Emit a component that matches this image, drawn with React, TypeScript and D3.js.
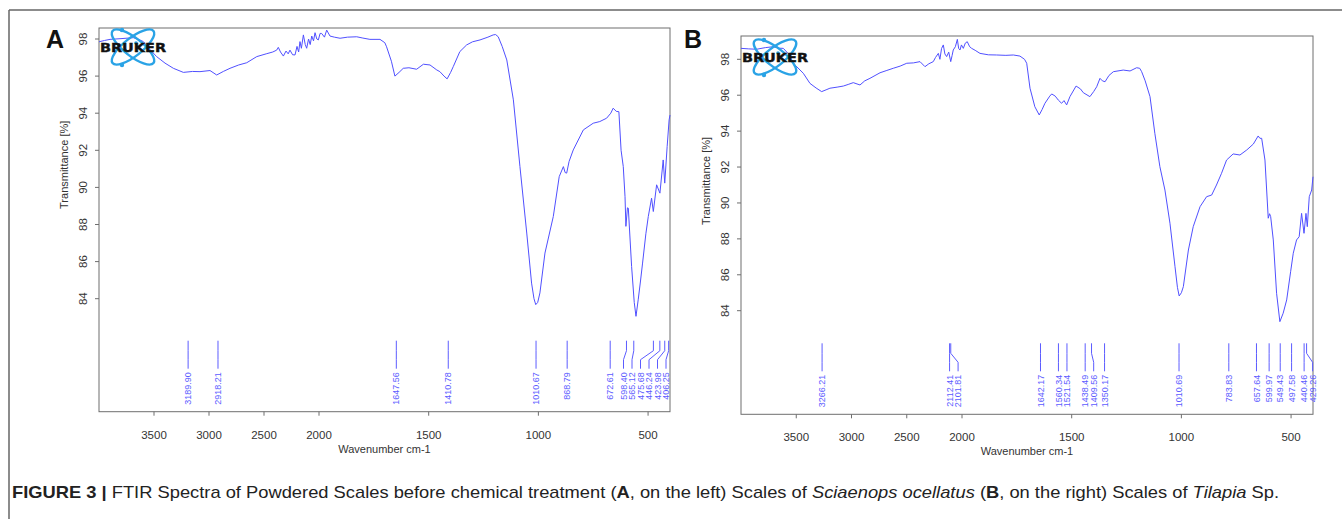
import React from "react";
import * as d3 from "d3";

// ---------- data ----------
const waveA = [4000,3950,3900,3800,3688,3640,3597,3540,3476,3400,3324,3233,3150,3082,2991,2930,2870,2809,2730,2657,2566,2480,2420,2385,2370,2350,2324,2300,2280,2264,2240,2218,2200,2185,2173,2160,2142,2125,2112,2095,2080,2066,2050,2036,2020,2006,1995,1988,1975,1965,1950,1930,1904,1870,1828,1800,1768,1722,1700,1692,1670,1654,1635,1616,1590,1555,1524,1494,1463,1449,1430,1416,1400,1388,1358,1327,1300,1266,1230,1206,1195,1183,1165,1144,1114,1084,1053,1031,1020,1012,1003,993,970,932,905,886,878,871,860,841,795,750,720,689,670,659,645,633,623,613,605,601,594,590,575,563,555,545,535,525,510,499,484,476,461,446,431,424,413,404,400];
const transA = [97.85,97.92,97.98,98.02,98.07,97.98,97.86,97.45,97.05,96.7,96.42,96.2,96.25,96.24,96.3,96.06,96.25,96.42,96.6,96.72,97.05,97.2,97.3,97.4,97.55,97.3,97.08,97.35,97.2,97.4,97.15,97.14,97.6,97.3,97.86,97.5,98.22,97.7,97.5,98.0,97.7,98.16,97.9,98.34,98.0,97.95,98.3,98.3,98.1,98.48,98.16,98.1,98.04,98.1,98.12,98.05,97.98,97.98,97.8,97.58,96.8,96.0,96.2,96.42,96.45,96.37,96.64,96.6,96.33,96.24,96.0,95.85,96.2,96.51,97.32,97.68,97.85,97.95,98.1,98.22,98.24,98.12,97.6,96.87,94.72,91.12,87.54,84.84,84.0,83.68,83.8,84.31,86.46,88.43,90.58,91.12,90.8,90.77,91.4,92.02,93.1,93.46,93.55,93.73,94.0,94.27,94.1,94.08,92.0,91.12,89.5,87.9,88.9,88.88,85.74,83.8,83.05,83.94,84.9,85.92,87.5,88.43,89.42,88.7,90.14,89.69,91.48,90.23,92.2,93.64,93.9];

const waveB = [4000,3930,3858,3780,3708,3660,3617,3570,3527,3436,3376,3320,3270,3230,3195,3130,3074,3030,2984,2923,2880,2833,2742,2680,2622,2560,2500,2440,2380,2335,2300,2260,2240,2214,2200,2185,2169,2155,2139,2120,2102,2090,2079,2060,2042,2030,2018,2005,1994,1985,1976,1965,1956,1940,1918,1880,1842,1800,1766,1736,1715,1705,1690,1668,1648,1635,1622,1600,1591,1575,1561,1546,1535,1523,1508,1480,1460,1447,1417,1400,1386,1371,1360,1348,1330,1310,1265,1234,1204,1190,1181,1165,1143,1121,1098,1075,1052,1029,1018,1010,1000,991,968,946,915,885,862,840,817,794,764,733,702,672,650,642,634,619,604,598,593,581,566,551,536,520,502,490,475,463,452,441,432,426,417,406,400];
const transB = [98.61,98.58,98.56,98.65,98.7,98.62,98.61,98.3,97.78,97.22,96.66,96.4,96.2,96.3,96.39,96.45,96.51,96.6,96.7,96.57,96.8,96.94,97.25,97.38,97.5,97.62,97.78,97.8,97.87,97.59,97.75,97.87,98.1,98.33,98.0,98.6,98.8,98.3,98.15,98.4,97.87,98.2,98.52,98.7,99.11,98.6,98.52,98.8,98.61,98.9,98.98,98.7,98.61,98.5,98.33,98.25,98.24,98.22,98.24,98.18,98.0,97.78,96.39,95.36,94.9,95.2,95.55,95.95,96.07,95.95,95.73,95.55,95.7,95.46,95.92,96.51,96.35,96.14,95.92,96.2,96.47,96.94,96.8,96.75,97.1,97.31,97.4,97.35,97.53,97.5,97.31,96.8,95.92,93.88,92.02,90.72,88.87,86.45,85.3,84.82,85.0,85.34,87.38,88.68,89.79,90.35,90.44,91.0,91.65,92.39,92.73,92.67,92.95,93.28,93.73,93.6,93.6,92.39,89.15,89.4,89.24,87.94,84.97,83.39,83.86,84.6,86.17,87.2,87.94,88.12,89.42,88.31,89.42,88.68,90.35,90.72,91.46];

const peaksA = [3189.90,2918.21,1647.56,1410.78,1010.67,868.79,672.61,598.40,565.12,475.68,446.24,423.98,406.25];
const peaksB = [3266.21,2112.41,2101.81,1642.17,1560.34,1521.54,1438.49,1409.56,1350.17,1010.69,783.83,657.64,599.97,549.43,497.58,440.46,429.26];

const xTicks = [3500,3000,2500,2000,1500,1000,500];
const yTicks = [84,86,88,90,92,94,96,98];
const xBreaks = [4000,2000,400];

const BLUE = "#5050ff";
const LABEL_BLUE = "#5c5cff";
const AXIS = "#6e6e6e";
const FONT = "'Liberation Sans', Arial, sans-serif";

function layoutLabels(xs: number[], gap: number, maxX: number): number[] {
  const p = xs.slice();
  for (let i = 1; i < p.length; i++) p[i] = Math.max(p[i], p[i - 1] + gap);
  p[p.length - 1] = Math.min(p[p.length - 1], maxX);
  for (let i = p.length - 2; i >= 0; i--) p[i] = Math.min(p[i], p[i + 1] - gap);
  return p;
}

type PanelProps = {
  letter: string;
  letterX: number;
  letterY: number;
  left: number;
  mid: number;
  right: number;
  top: number;
  bottom: number;
  y98: number;
  y84: number;
  waves: number[];
  trans: number[];
  peaks: number[];
  labelMax: number;
  logoX: number;
  logoY: number;
};

function Logo({ cx, cy }: { cx: number; cy: number }) {
  const c = "#2aa3e6";
  return (
    <g>
      <ellipse cx={cx} cy={cy} rx={26} ry={9} fill="none" stroke={c} strokeWidth={2.4} transform={`rotate(38 ${cx} ${cy})`} />
      <ellipse cx={cx} cy={cy} rx={26} ry={9} fill="none" stroke={c} strokeWidth={2.4} transform={`rotate(-38 ${cx} ${cy})`} />
      <circle cx={cx - 11} cy={cy - 17} r={2.2} fill={c} />
      <circle cx={cx - 11} cy={cy + 18} r={2.2} fill={c} />
      <circle cx={cx + 3} cy={cy - 4} r={1.8} fill={c} />
      <text x={cx - 33} y={cy + 4.5} fontFamily="'DejaVu Sans', sans-serif" fontWeight="bold" fontSize={12} textLength={66} lengthAdjust="spacingAndGlyphs" fill="#111" stroke="#111" strokeWidth={0.4}>BRUKER</text>
    </g>
  );
}

function Panel(p: PanelProps) {
  const x = d3.scaleLinear().domain(xBreaks).range([p.left, p.mid, p.right]);
  const y = d3.scaleLinear().domain([84, 98]).range([p.y84, p.y98]);
  const pts = p.waves.map((w, i) => [w, p.trans[i]] as [number, number]);
  const line = d3.line<[number, number]>().x(d => x(d[0])).y(d => y(d[1]));
  const px = p.peaks.map(v => x(v));
  const order = px.map((v, i) => i).sort((a, b) => px[a] - px[b]);
  const sortedX = order.map(i => px[i]);
  const lx = layoutLabels(sortedX, 8.5, p.labelMax);
  const b = p.bottom;
  const lTop = b - 71, lB1 = b - 61, lB2 = b - 52, lEnd = b - 43, lText = b - 39.5;
  const yMid = y(91) - 4;
  return (
    <g>
      <rect x={p.left} y={p.top} width={p.right - p.left} height={p.bottom - p.top} fill="none" stroke={AXIS} strokeWidth={1} />
      {xTicks.map(t => (
        <g key={t}>
          <line x1={x(t)} x2={x(t)} y1={b} y2={b + 4} stroke={AXIS} />
          <text x={x(t)} y={b + 27} textAnchor="middle" fontFamily={FONT} fontSize={11.5} fill="#333">{t}</text>
        </g>
      ))}
      {yTicks.map(t => (
        <g key={t}>
          <line x1={p.left - 4} x2={p.left} y1={y(t)} y2={y(t)} stroke={AXIS} />
          <text transform={`translate(${p.left - 16},${y(t)}) rotate(-90)`} dy="0.35em" textAnchor="middle" fontFamily={FONT} fontSize={11.5} fill="#333">{t}</text>
        </g>
      ))}
      <text transform={`translate(${p.left - 35},${yMid}) rotate(-90)`} dy="0.35em" textAnchor="middle" fontFamily={FONT} fontSize={11} fill="#333">Transmittance [%]</text>
      <text x={(p.left + p.right) / 2} y={b + 41} textAnchor="middle" fontFamily={FONT} fontSize={11} fill="#333">Wavenumber cm-1</text>
      <path d={line(pts) || ""} fill="none" stroke={BLUE} strokeWidth={1} strokeLinejoin="round" />
      {order.map((idx, k) => {
        const xv = px[idx];
        const lv = lx[k];
        return (
          <g key={idx}>
            <path d={`M${xv},${lTop}V${lB1}L${lv},${lB2}V${lEnd}`} fill="none" stroke={LABEL_BLUE} strokeWidth={1} />
            <text transform={`translate(${lv},${lText}) rotate(-90)`} dy="0.35em" textAnchor="end" fontFamily={FONT} fontSize={9} fill={LABEL_BLUE}>{p.peaks[idx].toFixed(2)}</text>
          </g>
        );
      })}
      <Logo cx={p.logoX} cy={p.logoY} />
      <text x={p.letterX} y={p.letterY} fontFamily={FONT} fontWeight="bold" fontSize={25} fill="#111">{p.letter}</text>
    </g>
  );
}

export default function App() {
  return (
    <svg width={1342} height={519} style={{ position: "absolute", left: 0, top: 0, background: "#fff" }}>
      <rect x={0} y={0} width={1342} height={519} fill="#fff" />
      <line x1={9} x2={1342} y1={10} y2={10} stroke="#666" strokeWidth={1.5} />
      <line x1={9} x2={9} y1={10} y2={519} stroke="#666" strokeWidth={1.5} />
      <Panel letter="A" letterX={46} letterY={48} left={99} mid={319} right={670} top={28} bottom={411.7} y98={39} y84={298.7}
        waves={waveA} trans={transA} peaks={peaksA} labelMax={666} logoX={133} logoY={47} />
      <Panel letter="B" letterX={684} letterY={48} left={741} mid={962} right={1313} top={36} bottom={414.3} y98={59.3} y84={310.7}
        waves={waveB} trans={transB} peaks={peaksB} labelMax={1313} logoX={775} logoY={57} />
      <text x={12} y={498} fontFamily={FONT} fontSize={17} fill="#222" textLength={1267} lengthAdjust="spacingAndGlyphs">
        <tspan fontWeight="bold">FIGURE 3 | </tspan>
        <tspan>FTIR Spectra of Powdered Scales before chemical treatment (</tspan>
        <tspan fontWeight="bold">A</tspan>
        <tspan>, on the left) Scales of </tspan>
        <tspan fontStyle="italic">Sciaenops ocellatus</tspan>
        <tspan> (</tspan>
        <tspan fontWeight="bold">B</tspan>
        <tspan>, on the right) Scales of </tspan>
        <tspan fontStyle="italic">Tilapia</tspan>
        <tspan> Sp.</tspan>
      </text>
    </svg>
  );
}
